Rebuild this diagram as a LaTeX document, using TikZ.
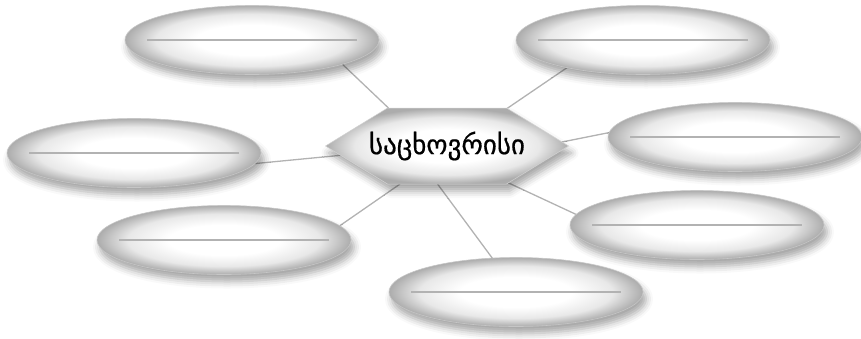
\documentclass[tikz,border=0pt]{standalone}
\usepackage{fontspec}
\newfontfamily\geofont[FakeBold=0.6]{DejaVu Sans}
\usetikzlibrary{shapes.geometric,shapes.symbols,shadows.blur,backgrounds}

\pgfdeclareradialshading{ovalshade}{\pgfpoint{0bp}{0bp}}{color(0bp)=(white); color(11bp)=(white); color(19bp)=(gray!18); color(25bp)=(gray!65); color(50bp)=(gray!65)}

\tikzset{
	oval/.style={draw=gray!45, line width=0.6pt, ellipse, minimum width=254pt, minimum height=69pt, inner sep=0pt, outer sep=0pt,
		shading=ovalshade,
		blur shadow={shadow xshift=3pt, shadow yshift=-7pt, shadow blur radius=7pt, shadow opacity=35},
		path picture={\draw[gray!60, line width=1.4pt] ([xshift=22pt]path picture bounding box.west) -- ([xshift=-22pt]path picture bounding box.east);}},
	hexa/.style={draw=gray!35, line width=0.5pt, signal, signal to=east and west, signal pointer angle=63, minimum width=243pt, minimum height=76pt, inner sep=0pt, outer sep=0pt,
		shading=ovalshade,
		blur shadow={shadow xshift=3pt, shadow yshift=-7pt, shadow blur radius=7pt, shadow opacity=35}},
	title/.style={font=\geofont\fontsize{27}{30}\selectfont, inner sep=0pt},
	spoke/.style={draw=gray!60, line width=1.3pt}
}

\begin{document}
\begin{tikzpicture}[x=1pt, y=-1pt]
				\useasboundingbox (0, 0) rectangle (861, 338);
				\node[hexa, label={[title, name=word]center:საცხოვრისი}] (home)at(447, 146) {};
				\node[oval] (tl)at(252, 40) {};
				\node[oval] (tr)at(643, 40) {};
				\node[oval] (rt)at(735, 137) {};
				\node[oval] (lt)at(134, 153) {};
				\node[oval] (ll)at(224, 240) {};
				\node[oval] (lr)at(697, 225) {};
				\node[oval] (bt)at(516, 292) {};
				\begin{scope}[on background layer]
				\draw[spoke] (tl.-15.5) -- (home.147);
				\draw[spoke] (tr.-160.3) -- (home.32);
				\draw[spoke] (rt.178) -- (home.2);
				\draw[spoke] (lt.-5.6) -- (home.185);
				\draw[spoke] (ll.7.2) -- (home.219);
				\draw[spoke] (bt.125.2) -- (home.256.7);
				\draw[spoke] (lr.175.4) -- (home.329);
				\end{scope}
			\end{tikzpicture}
\end{document}
